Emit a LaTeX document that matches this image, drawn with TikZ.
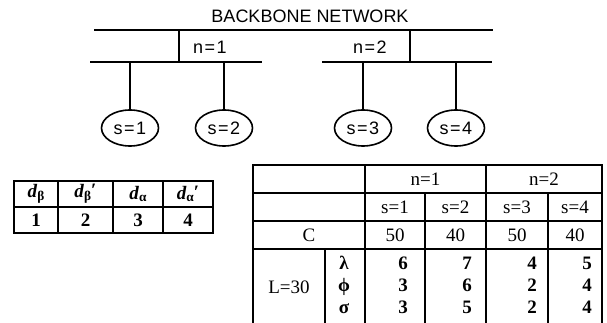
\documentclass[tikz,border=0pt]{standalone}
\usepackage{fontspec}
\setmainfont{Liberation Serif}
\setsansfont{Liberation Sans}
\usetikzlibrary{positioning,shapes.geometric}

\newcommand{\dvar}[2]{\textbf{\textit{d}}\textsubscript{\textbf{#1}}\kern-0.5pt\raisebox{0.1ex}{\textbf{#2}}}
\newcommand{\eqlab}[2]{#1\kern1.5pt=\kern1.5pt#2}

\begin{document}
\begin{tikzpicture}[
    x=1pt, y=-1pt,
    bus/.style={line width=2pt, draw=black},
    drop/.style={line width=1.5pt, draw=black},
    station/.style={
        ellipse,
        draw=black,
        line width=1.6pt,
        minimum width=57pt,
        minimum height=36pt,
        inner sep=0pt,
        font=\sffamily\fontsize{18}{20}\selectfont
    },
    netlabel/.style={inner sep=0pt, font=\sffamily\fontsize{18}{20}\selectfont},
    cell/.style={
        draw=black,
        line width=1.5pt,
        inner sep=0pt,
        outer sep=0pt,
        anchor=north west,
        minimum height=28pt,
        font=\fontsize{19}{22}\selectfont
    },
    dcell/.style={cell, minimum height=26pt, font=\bfseries\fontsize{19}{22}\selectfont},
    vals/.style={inner sep=0pt, align=center, font=\bfseries\fontsize{19}{22}\selectfont}
]
    \useasboundingbox (0,0) rectangle (607,323);
    \clip (0,0) rectangle (607,323);

    % backbone and the two networks
    \node[netlabel] (title) at (310,16) {BACKBONE NETWORK};
    \coordinate (bbL) at (94,30);
    \coordinate (bbR) at (493,30);
    \draw[bus] (bbL) -- (bbR);

    \coordinate (net1L) at (90,62);
    \coordinate (net1R) at (262,62);
    \coordinate (gate1) at (179,62);
    \node[netlabel] (n1) at (210,47) {\eqlab{n}{1}};
    \draw[bus] (net1L) -- (net1R);
    \draw[drop] (gate1) -- (gate1 |- bbL);

    \coordinate (net2L) at (322,62);
    \coordinate (net2R) at (492,62);
    \coordinate (gate2) at (410,62);
    \node[netlabel] (n2) at (370,47) {\eqlab{n}{2}};
    \draw[bus] (net2L) -- (net2R);
    \draw[drop] (gate2) -- (gate2 |- bbL);

    \node[station] (s1) at (130,128) {\eqlab{s}{1}};
    \node[station] (s2) at (224,128) {\eqlab{s}{2}};
    \node[station] (s3) at (363,128) {\eqlab{s}{3}};
    \node[station] (s4) at (456,128) {\eqlab{s}{4}};
    \draw[drop] (s1.north |- net1L) -- (s1.north);
    \draw[drop] (s2.north |- net1L) -- (s2.north);
    \draw[drop] (s3.north |- net2L) -- (s3.north);
    \draw[drop] (s4.north |- net2L) -- (s4.north);

    % delay table
    \node[dcell, minimum width=44pt] (dbeta) at (14,181) {\dvar{β}{}};
    \node[dcell, minimum width=55pt, right=0pt of dbeta] (dbetap) {\dvar{β}{′}};
    \node[dcell, minimum width=50pt, right=0pt of dbetap] (dalpha) {\dvar{α}{}};
    \node[dcell, minimum width=50pt, right=0pt of dalpha] (dalphap) {\dvar{α}{′}};
    \node[dcell, minimum width=44pt, below=0pt of dbeta] (dv1) {1};
    \node[dcell, minimum width=55pt, right=0pt of dv1] (dv2) {2};
    \node[dcell, minimum width=50pt, right=0pt of dv2] (dv3) {3};
    \node[dcell, minimum width=50pt, right=0pt of dv3] (dv4) {4};

    % parameter table
    \node[cell, minimum width=112pt] (hd1) at (253,165) {};
    \node[cell, minimum width=121pt] (hn1) at (365,165) {n=1};
    \node[cell, minimum width=116pt] (hn2) at (486,165) {n=2};
    \node[cell, minimum width=112pt] (hd2) at (253,193) {};
    \node[cell, minimum width=60pt] (hs1) at (365,193) {s=1};
    \node[cell, minimum width=61pt] (hs2) at (425,193) {s=2};
    \node[cell, minimum width=62pt] (hs3) at (486,193) {s=3};
    \node[cell, minimum width=54pt] (hs4) at (548,193) {s=4};
    \node[cell, minimum width=112pt] (cap) at (253,221) {C};
    \node[cell, minimum width=60pt] (c1) at (365,221) {50};
    \node[cell, minimum width=61pt] (c2) at (425,221) {40};
    \node[cell, minimum width=62pt] (c3) at (486,221) {50};
    \node[cell, minimum width=54pt] (c4) at (548,221) {40};
    \node[cell, minimum width=72pt, minimum height=76pt] (load) at (253,249) {L=30};
    \node[cell, minimum width=40pt, minimum height=76pt] (sym) at (325,249) {};
    \node[cell, minimum width=60pt, minimum height=76pt] (r1) at (365,249) {};
    \node[cell, minimum width=61pt, minimum height=76pt] (r2) at (425,249) {};
    \node[cell, minimum width=62pt, minimum height=76pt] (r3) at (486,249) {};
    \node[cell, minimum width=54pt, minimum height=76pt] (r4) at (548,249) {};

    \node[vals] (symv) at (344,285) {λ\\ϕ\\σ};
    \node[vals] (v1) at (403,285) {6\\3\\3};
    \node[vals] (v2) at (467,285) {7\\6\\5};
    \node[vals] (v3) at (532,285) {4\\2\\2};
    \node[vals] (v4) at (587,285) {5\\4\\4};

\end{tikzpicture}
\end{document}
